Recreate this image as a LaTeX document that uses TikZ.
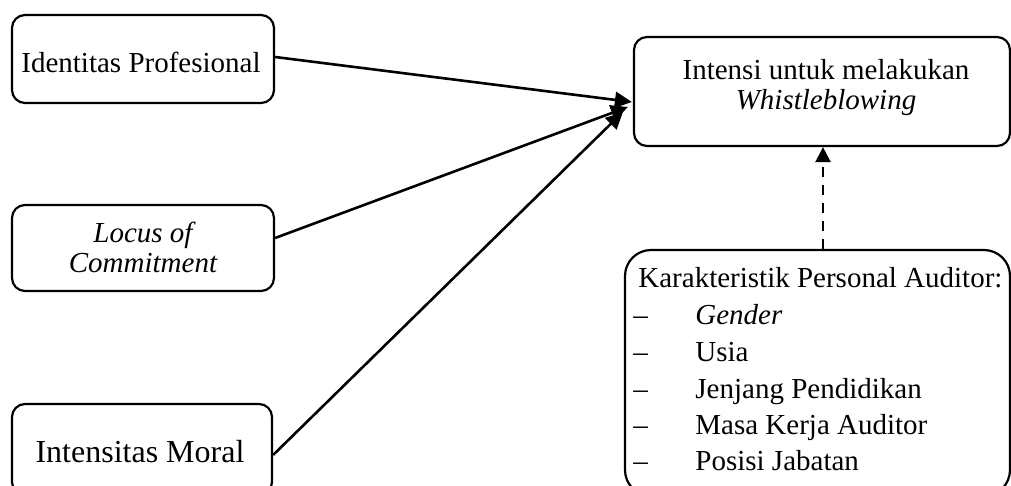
\documentclass[tikz,border=0pt]{standalone}
\usepackage{fontspec}
\setmainfont{Liberation Serif}[ItalicFont={Liberation Serif Italic},BoldFont={Liberation Serif Bold}]
\usetikzlibrary{arrows.meta,calc}
\begin{document}
\begin{tikzpicture}[x=0.5pt,y=-0.5pt,
  box/.style={draw,line width=1.1pt,rounded corners=6.5pt,inner sep=0pt},
  txt/.style={inner sep=0pt,font=\fontsize{14.5}{15}\selectfont},
  arr/.style={line width=1.3pt,-{Triangle[length=8.5pt,width=8pt]}},
  darr/.style={line width=1.2pt,dash pattern=on 5pt off 4pt,-{Triangle[length=7.5pt,width=7.5pt]}}]
\useasboundingbox (0,0) rectangle (1011,486);
\begin{scope}
\clip (0,0) rectangle (1011,486);
\node[box,minimum width=131pt,minimum height=44pt] (b1) at (143,59) {};
\node[box,minimum width=131pt,minimum height=43pt] (b2) at (143,248) {};
\node[box,minimum width=130pt,minimum height=45.5pt] (b3) at (142,449.5) {};
\node[box,minimum width=188pt,minimum height=54.5pt] (b4) at (822,91.5) {};
\node[box,rounded corners=13pt,minimum width=192.5pt,minimum height=123pt] (b5) at (817.5,373) {};
\end{scope}
% texts
\node[txt] (t1) at (141,62) {Identitas Profesional};
\node[txt,align=center] (t2) at (143,247.5) {\itshape Locus of\\\itshape Commitment};
\node[txt,font=\fontsize{16}{17}\selectfont] (t3) at (140,452) {Intensitas Moral};
\node[txt,align=center] (t4) at (826,88) {Intensi untuk melakukan\\\itshape Whistleblowing};
\node[txt,anchor=base west] (k0) at (638,287) {Karakteristik Personal Auditor:};
\node[txt,anchor=base west] (d1) at (633,324) {--};
\node[txt,anchor=base west] (i1) at (695,324) {\itshape Gender};
\node[txt,anchor=base west] (d2) at (633,361) {--};
\node[txt,anchor=base west] (i2) at (695,361) {Usia};
\node[txt,anchor=base west] (d3) at (633,398) {--};
\node[txt,anchor=base west] (i3) at (695,398) {Jenjang Pendidikan};
\node[txt,anchor=base west] (d4) at (633,434) {--};
\node[txt,anchor=base west] (i4) at (695,434) {Masa Kerja Auditor};
\node[txt,anchor=base west] (d5) at (633,470) {--};
\node[txt,anchor=base west] (i5) at (695,470) {Posisi Jabatan};
% connectors
\draw[arr] ($(b1.east)+(0,-2)$) -- ($(b4.west)+(-1,10.5)$);
\draw[arr] ($(b2.east)+(0,-10)$) -- ($(b4.west)+(-5,15.5)$);
\draw[arr] ($(b3.east)+(0,5.5)$) -- ($(b4.west)+(-10,20.5)$);
\draw[darr] (b5.north -| 823,0) -- (b4.south -| 823,0);
\end{tikzpicture}
\end{document}
